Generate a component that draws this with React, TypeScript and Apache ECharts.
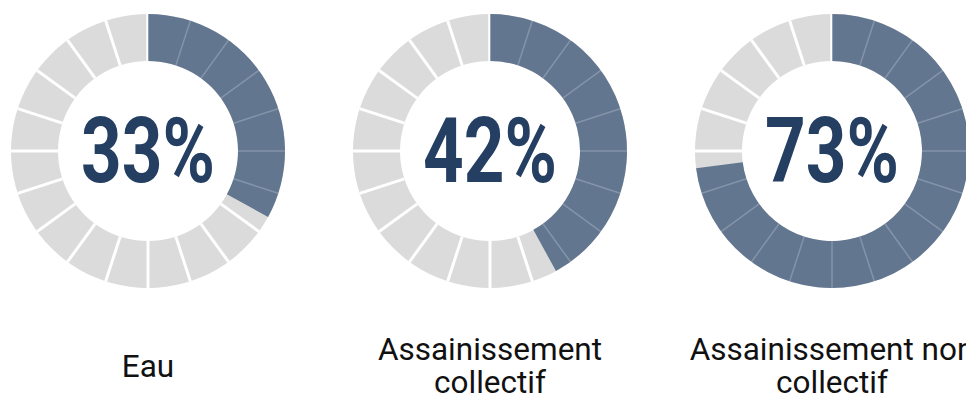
import React, { useEffect, useRef } from "react";
import * as echarts from "echarts";

const categories = ["Eau", "Assainissement\ncollectif", "Assainissement non\ncollectif"];
const values = [33, 42, 73];
const segmentCount = 20;

const centersX = [148, 490, 832];
const centerY = 151;
const radius = 137;
const ringWidth = 47;

const GRAY = "#dbdbdb";
const BLUE = "#627690";
const TEXT_BLUE = "#243f62";

export default function App() {
  const ref = useRef<HTMLDivElement>(null);
  useEffect(() => {
    if (!ref.current) return;
    const chart = echarts.init(ref.current, undefined, { renderer: "svg" });
    const series: any[] = [];
    const graphics: any[] = [];
    values.forEach((v, i) => {
      const common = {
        type: "gauge",
        center: [centersX[i], centerY],
        radius,
        startAngle: 90,
        endAngle: -270,
        min: 0,
        max: 100,
        splitNumber: segmentCount,
        pointer: { show: false },
        anchor: { show: false },
        axisTick: { show: false },
        axisLabel: { show: false },
        silent: true,
      };
      // background segmented ring
      series.push({
        ...common,
        z: 1,
        axisLine: { show: true, roundCap: false, lineStyle: { width: ringWidth, color: [[1, GRAY]] } },
        splitLine: { show: true, length: ringWidth, distance: -ringWidth, lineStyle: { color: "#ffffff", width: 3 } },
        progress: { show: false },
        title: {
          show: true,
          offsetCenter: [0, 215],
          fontSize: 31.5,
          lineHeight: 33,
          color: "#111111",
          fontFamily: "Roboto",
        },
        detail: { show: false },
        data: [{ value: 0, name: categories[i] }],
      });
      // value arc
      series.push({
        ...common,
        z: 2,
        axisLine: { show: false, lineStyle: { width: ringWidth } },
        splitLine: { show: false },
        progress: { show: true, width: ringWidth, roundCap: false, itemStyle: { color: BLUE } },
        title: { show: false },
        detail: { show: false },
        data: [{ value: v }],
      });
      // faint segment lines over the value arc
      series.push({
        ...common,
        z: 3,
        axisLine: { show: false, lineStyle: { width: ringWidth } },
        splitLine: {
          show: true,
          length: ringWidth,
          distance: -ringWidth,
          lineStyle: { color: "rgba(255,255,255,0.22)", width: 1.5 },
        },
        progress: { show: false },
        title: { show: false },
        detail: { show: false },
        data: [{ value: 0 }],
      });
      graphics.push({
        type: "text",
        x: centersX[i],
        y: centerY,
        scaleX: 0.78,
        z: 10,
        silent: true,
        style: {
          text: v + "%",
          fill: TEXT_BLUE,
          font: "bold 91px Roboto",
          textAlign: "center",
          textVerticalAlign: "middle",
        },
      });
    });
    chart.setOption({
      animation: false,
      backgroundColor: "#ffffff",
      series,
      graphic: graphics,
    });
    return () => chart.dispose();
  }, []);
  return (
    <div
      ref={ref}
      style={{ position: "fixed", left: 0, top: 0, width: 966, height: 401 }}
    />
  );
}
